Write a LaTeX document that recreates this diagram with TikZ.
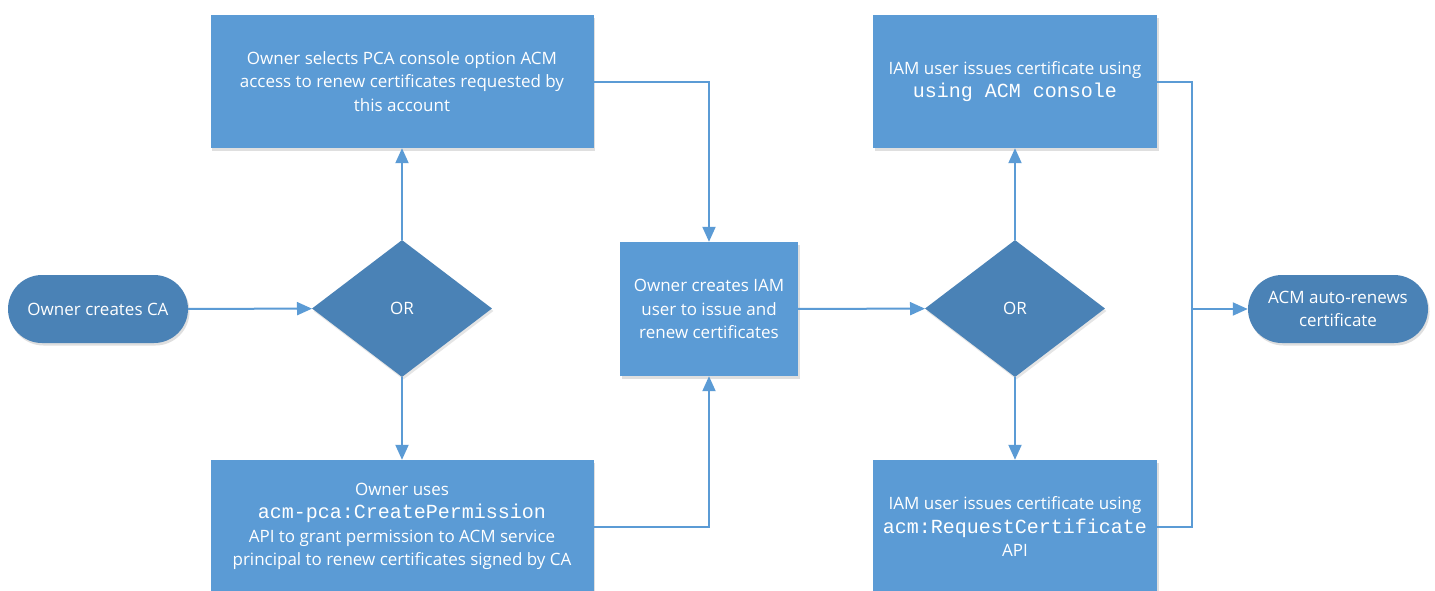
\documentclass[tikz,border=0pt]{standalone}
\usepackage{fontspec}
\setmainfont{Open Sans}
\setmonofont{Liberation Mono}
\usetikzlibrary{shapes.geometric,arrows.meta,shadows}
\definecolor{boxblue}{HTML}{5B9BD5}
\definecolor{darkblue}{HTML}{4A82B6}
\begin{document}
\begin{tikzpicture}[x=1pt,y=-1pt,
  every node/.style={font=\fontsize{17}{23.5}\selectfont, text=white, align=center},
  procbox/.style={rectangle, fill=boxblue, minimum width=383pt, minimum height=133pt, inner sep=0pt,
    drop shadow={shadow xshift=1.5pt, shadow yshift=-2.5pt, opacity=0.25}},
  decision/.style={diamond, fill=darkblue, minimum width=180pt, minimum height=137pt, inner sep=0pt,
    drop shadow={shadow xshift=1.5pt, shadow yshift=-2.5pt, opacity=0.2}},
  term/.style={rectangle, rounded corners=34pt, fill=darkblue, minimum width=180pt, minimum height=68pt, inner sep=0pt,
    drop shadow={shadow xshift=1.5pt, shadow yshift=-2.5pt, opacity=0.25}},
  flow/.style={draw=boxblue, line width=2pt, -{Triangle[length=15pt,width=13pt]}},
  link/.style={draw=boxblue, line width=2pt}]
\useasboundingbox[fill=white] (0,0) rectangle (1435,590);
\newcommand{\mtext}[1]{{\ttfamily\fontsize{20}{23.5}\selectfont #1}}

\node[procbox] (tl) at (402,81.5) {Owner selects PCA console option ACM\\access to renew certificates requested by\\this account};
\node[procbox] (bl) at (402,526.5) {Owner uses\\\mtext{acm-pca:CreatePermission}\\API to grant permission to ACM service\\principal to renew certificates signed by CA};
\node[procbox, minimum width=178pt, minimum height=134pt] (mid) at (709,309) {Owner creates IAM\\user to issue and\\renew certificates};
\node[procbox, minimum width=284pt] (tr) at (1015,81.5) {IAM user issues certificate using\\\mtext{using ACM console}};
\node[procbox, minimum width=284pt] (br) at (1015,526.5) {IAM user issues certificate using\\\mtext{acm:RequestCertificate}\\API};
\node[decision] (d1) at (402,308.5) {OR};
\node[decision] (d2) at (1015,308.5) {OR};
\node[term] (start) at (98,309) {Owner creates CA};
\node[term] (end) at (1338,309) {ACM auto-renews\\certificate};
\coordinate (j) at (1192,309);

\draw[flow] (start) -- (d1);
\draw[flow] (d1) -- (tl);
\draw[flow] (d1) -- (bl);
\draw[flow] (tl.east) -| (mid.north);
\draw[flow] (bl.east) -| (mid.south);
\draw[flow] (mid) -- (d2);
\draw[flow] (d2) -- (tr);
\draw[flow] (d2) -- (br);
\draw[link] (tr.east) -| (j) |- (br.east);
\draw[flow] (j) -- (end);
\end{tikzpicture}
\end{document}
